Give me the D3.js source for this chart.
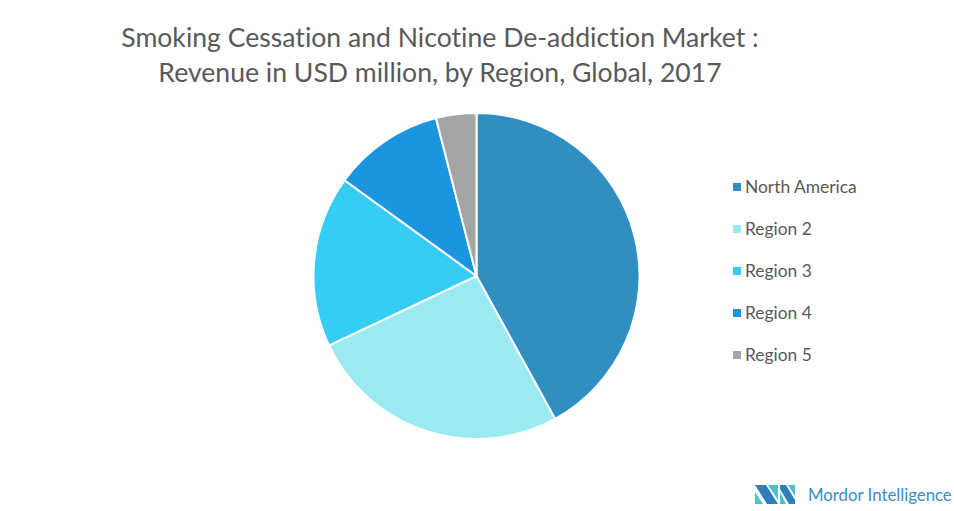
<!DOCTYPE html>
<html>
<head>
<meta charset="utf-8">
<script src="https://cdn.jsdelivr.net/npm/d3@7"></script>
<style>
body{margin:0;background:#fff;}
svg text{font-family:Lato,"Open Sans",sans-serif;font-variant-ligatures:none;}
</style>
</head>
<body>
<script>
// data (share of revenue, %)
let regions=["North America","Region 2","Region 3","Region 4","Region 5"];
let shares=[42,26,17,11,4];
let colors=["#2e8fc0","#9aeaf2","#36cdf5","#1b95e0","#a5a5a5"];
let titleLines=["Smoking Cessation and Nicotine De-addiction Market :","Revenue in USD million, by Region, Global, 2017"];

let svgWidth=954,svgHeight=511;
let cx=476.5,cy=276,r=163;

let svg=d3.select("body").append("svg")
    .attr("width",svgWidth)
    .attr("height",svgHeight);

svg.selectAll("text.title")
    .data(titleLines)
    .enter().append("text")
    .attr("class","title")
    .attr("x",440)
    .attr("y",(d,i)=>47+i*35)
    .attr("text-anchor","middle")
    .style("font-size","26.6px")
    .style("fill","#595959")
    .text(d=>d);

let pie=d3.pie().sort(null).value(d=>d);
let arc=d3.arc().innerRadius(0).outerRadius(r);
let color=d3.scaleOrdinal().domain(regions).range(colors);

svg.append("g")
    .attr("transform",`translate(${cx},${cy})`)
    .selectAll("path")
    .data(pie(shares))
    .enter().append("path")
    .attr("d",arc)
    .style("fill",(d,i)=>color(regions[i]))
    .style("stroke","#fff")
    .style("stroke-width",2);

let y=d3.scalePoint().domain(regions).range([187,355]);
let legend=svg.append("g").selectAll("g")
    .data(regions)
    .enter().append("g")
    .attr("transform",d=>`translate(733,${y(d)})`);
legend.append("rect")
    .attr("x",0).attr("y",-4)
    .attr("width",8).attr("height",8)
    .style("fill",d=>color(d));
legend.append("text")
    .attr("x",12).attr("y",6)
    .style("font-size","17.4px")
    .style("fill","#595959")
    .text(d=>d);

// logo
let logo=svg.append("g").attr("transform","translate(755,485)");
logo.append("polygon").attr("points","0,7 8,19 0,19").style("fill","#44c6c9");
logo.append("polygon").attr("points","0,0 11,0 23,19 12,19").style("fill","#2e7fb8");
logo.append("polygon").attr("points","13,0 23,0 23,15").style("fill","#44c6c9");
logo.append("polygon").attr("points","25,0 31,0 40,15 40,19 34,19 25,4").style("fill","#2e7fb8");
logo.append("polygon").attr("points","25,7 31,19 25,19").style("fill","#44c6c9");
logo.append("polygon").attr("points","33,0 40,0 40,11").style("fill","#44c6c9");
logo.append("text")
    .attr("x",53).attr("y",16)
    .style("font-size","16.8px")
    .style("fill","#3b8dc4")
    .text("Mordor Intelligence");
</script>
</body>
</html>
